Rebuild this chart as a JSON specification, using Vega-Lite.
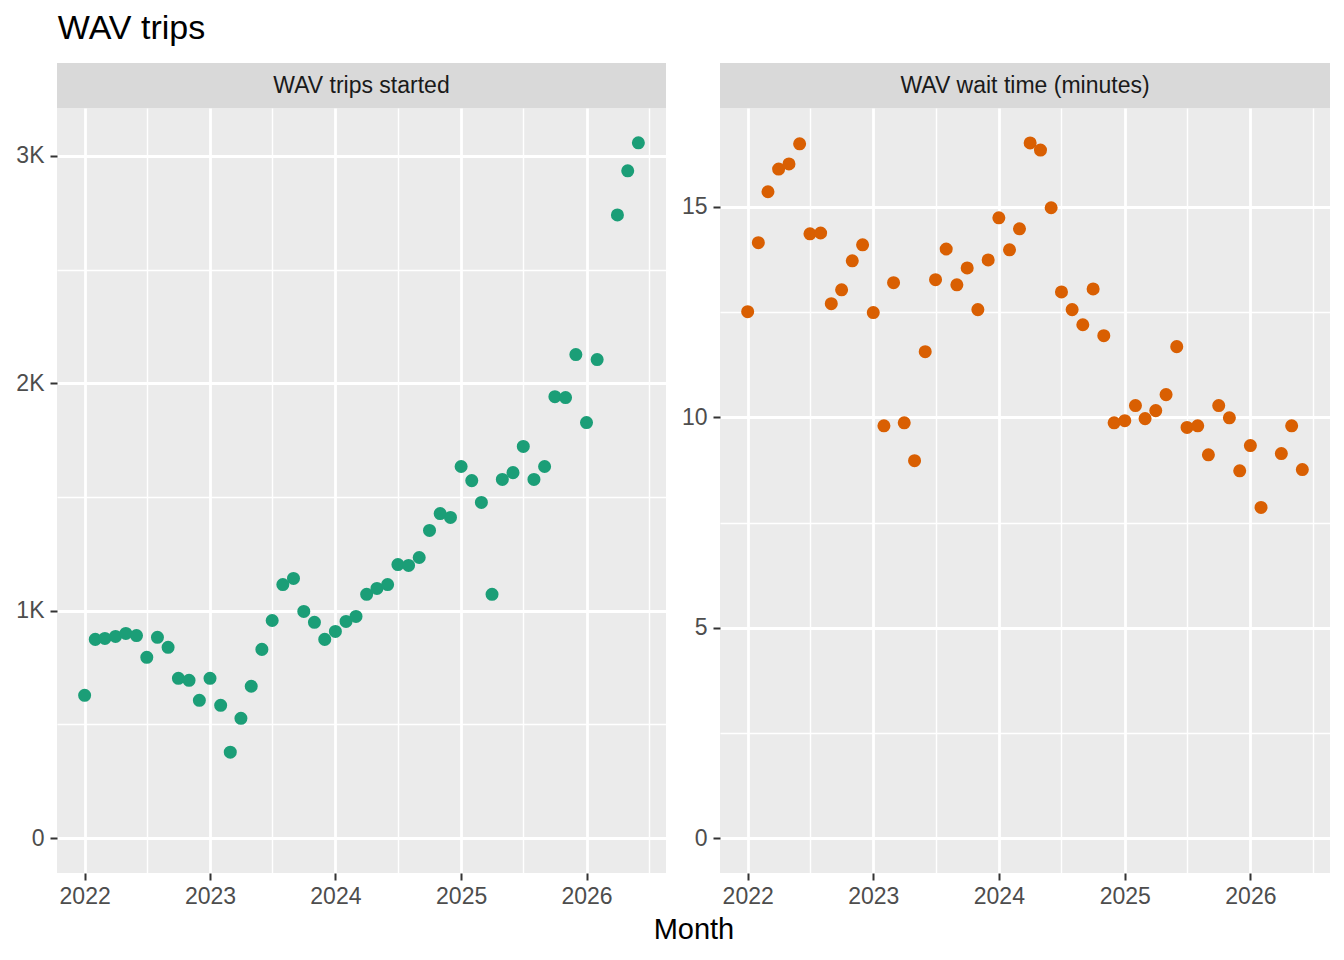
{
  "$schema": "https://vega.github.io/schema/vega-lite/v6.json",
  "padding": {"left": 15, "top": 12, "right": 12, "bottom": 0},
  "background": "white",
  "title": {"text": "WAV trips", "anchor": "start", "dx": 42, "fontSize": 34, "font": "Liberation Sans", "fontWeight": "normal", "color": "black", "offset": 17},
  "datasets": {
    "trips": [
      {"month": "2022-01-01", "value": 628}, {"month": "2022-02-01", "value": 874}, {"month": "2022-03-01", "value": 878},
      {"month": "2022-04-01", "value": 887}, {"month": "2022-05-01", "value": 900}, {"month": "2022-06-01", "value": 891},
      {"month": "2022-07-01", "value": 795}, {"month": "2022-08-01", "value": 883}, {"month": "2022-09-01", "value": 839},
      {"month": "2022-10-01", "value": 703}, {"month": "2022-11-01", "value": 694}, {"month": "2022-12-01", "value": 606},
      {"month": "2023-01-01", "value": 703}, {"month": "2023-02-01", "value": 584}, {"month": "2023-03-01", "value": 378},
      {"month": "2023-04-01", "value": 527}, {"month": "2023-05-01", "value": 668}, {"month": "2023-06-01", "value": 830},
      {"month": "2023-07-01", "value": 957}, {"month": "2023-08-01", "value": 1115}, {"month": "2023-09-01", "value": 1142},
      {"month": "2023-10-01", "value": 997}, {"month": "2023-11-01", "value": 949}, {"month": "2023-12-01", "value": 874},
      {"month": "2024-01-01", "value": 909}, {"month": "2024-02-01", "value": 953}, {"month": "2024-03-01", "value": 975},
      {"month": "2024-04-01", "value": 1072}, {"month": "2024-05-01", "value": 1098}, {"month": "2024-06-01", "value": 1115},
      {"month": "2024-07-01", "value": 1203}, {"month": "2024-08-01", "value": 1199}, {"month": "2024-09-01", "value": 1234},
      {"month": "2024-10-01", "value": 1353}, {"month": "2024-11-01", "value": 1427}, {"month": "2024-12-01", "value": 1410},
      {"month": "2025-01-01", "value": 1634}, {"month": "2025-02-01", "value": 1572}, {"month": "2025-03-01", "value": 1476},
      {"month": "2025-04-01", "value": 1072}, {"month": "2025-05-01", "value": 1577}, {"month": "2025-06-01", "value": 1607},
      {"month": "2025-07-01", "value": 1722}, {"month": "2025-08-01", "value": 1577}, {"month": "2025-09-01", "value": 1634},
      {"month": "2025-10-01", "value": 1941}, {"month": "2025-11-01", "value": 1937}, {"month": "2025-12-01", "value": 2126},
      {"month": "2026-01-01", "value": 1827}, {"month": "2026-02-01", "value": 2104},
      {"month": "2026-04-01", "value": 2740}, {"month": "2026-05-01", "value": 2934}, {"month": "2026-06-01", "value": 3057}
    ],
    "wait": [
      {"month": "2022-01-01", "value": 12.51}, {"month": "2022-02-01", "value": 14.15}, {"month": "2022-03-01", "value": 15.36},
      {"month": "2022-04-01", "value": 15.9}, {"month": "2022-05-01", "value": 16.02}, {"month": "2022-06-01", "value": 16.5},
      {"month": "2022-07-01", "value": 14.36}, {"month": "2022-08-01", "value": 14.38}, {"month": "2022-09-01", "value": 12.7},
      {"month": "2022-10-01", "value": 13.03}, {"month": "2022-11-01", "value": 13.72}, {"month": "2022-12-01", "value": 14.1},
      {"month": "2023-01-01", "value": 12.49}, {"month": "2023-02-01", "value": 9.8}, {"month": "2023-03-01", "value": 13.2},
      {"month": "2023-04-01", "value": 9.87}, {"month": "2023-05-01", "value": 8.97}, {"month": "2023-06-01", "value": 11.56},
      {"month": "2023-07-01", "value": 13.27}, {"month": "2023-08-01", "value": 14.0}, {"month": "2023-09-01", "value": 13.15},
      {"month": "2023-10-01", "value": 13.55}, {"month": "2023-11-01", "value": 12.56}, {"month": "2023-12-01", "value": 13.74},
      {"month": "2024-01-01", "value": 14.74}, {"month": "2024-02-01", "value": 13.98}, {"month": "2024-03-01", "value": 14.48},
      {"month": "2024-04-01", "value": 16.52}, {"month": "2024-05-01", "value": 16.35}, {"month": "2024-06-01", "value": 14.98},
      {"month": "2024-07-01", "value": 12.98}, {"month": "2024-08-01", "value": 12.56}, {"month": "2024-09-01", "value": 12.2},
      {"month": "2024-10-01", "value": 13.05}, {"month": "2024-11-01", "value": 11.94}, {"month": "2024-12-01", "value": 9.87},
      {"month": "2025-01-01", "value": 9.92}, {"month": "2025-02-01", "value": 10.28}, {"month": "2025-03-01", "value": 9.97},
      {"month": "2025-04-01", "value": 10.16}, {"month": "2025-05-01", "value": 10.54}, {"month": "2025-06-01", "value": 11.68},
      {"month": "2025-07-01", "value": 9.76}, {"month": "2025-08-01", "value": 9.8}, {"month": "2025-09-01", "value": 9.11},
      {"month": "2025-10-01", "value": 10.28}, {"month": "2025-11-01", "value": 9.99}, {"month": "2025-12-01", "value": 8.73},
      {"month": "2026-01-01", "value": 9.33}, {"month": "2026-02-01", "value": 7.86},
      {"month": "2026-04-01", "value": 9.14}, {"month": "2026-05-01", "value": 9.8}, {"month": "2026-06-01", "value": 8.76}
    ]
  },
  "vconcat": [
    {
      "title": {"text": "Month", "orient": "bottom", "anchor": "middle", "dx": 21, "fontSize": 29, "font": "Liberation Sans", "fontWeight": "normal", "color": "black", "offset": 8},
      "spacing": 15,
      "hconcat": [
        {
          "bounds": "flush",
          "spacing": 0,
          "vconcat": [
            {
              "width": 609, "height": 45,
              "view": {"fill": "#d9d9d9", "stroke": null},
              "data": {"values": [{"label": "WAV trips started"}]},
              "mark": {"type": "text", "font": "Liberation Sans", "fontSize": 23, "color": "#1a1a1a"},
              "encoding": {"text": {"field": "label"}}
            },
            {
              "width": 609, "height": 765,
              "view": {"fill": "#ebebeb", "stroke": null},
              "data": {"name": "trips"},
              "mark": {"type": "circle", "size": 170, "opacity": 1, "color": "#1b9e77"},
              "encoding": {
                "x": {
                  "field": "month", "type": "temporal", "title": null,
                  "scale": {"type": "utc", "domain": [{"year": 2021, "month": 10, "date": 12, "hours": 14, "utc": true}, {"year": 2026, "month": 8, "date": 20, "hours": 10, "utc": true}]},
                  "axis": {
                    "values": [
                      {"year": 2022, "month": 1, "date": 1, "utc": true}, {"year": 2022, "month": 7, "date": 1, "utc": true},
                      {"year": 2023, "month": 1, "date": 1, "utc": true}, {"year": 2023, "month": 7, "date": 1, "utc": true},
                      {"year": 2024, "month": 1, "date": 1, "utc": true}, {"year": 2024, "month": 7, "date": 1, "utc": true},
                      {"year": 2025, "month": 1, "date": 1, "utc": true}, {"year": 2025, "month": 7, "date": 1, "utc": true},
                      {"year": 2026, "month": 1, "date": 1, "utc": true}, {"year": 2026, "month": 7, "date": 1, "utc": true}
                    ],
                    "format": "%Y",
                    "labelExpr": "utcmonth(datum.value) == 0 ? datum.label : ''",
                    "gridWidth": {"condition": {"test": "utcmonth(datum.value) == 0", "value": 2.8}, "value": 1.4},
                    "tickOpacity": {"condition": {"test": "utcmonth(datum.value) == 0", "value": 1}, "value": 0}
                  }
                },
                "y": {
                  "field": "value", "type": "quantitative", "title": null,
                  "scale": {"domain": [-153, 3210], "nice": false, "zero": false},
                  "axis": {
                    "values": [0, 500, 1000, 1500, 2000, 2500, 3000],
                    "labelExpr": "datum.value == 0 ? '0' : (datum.value % 1000 == 0 ? (datum.value / 1000) + 'K' : '')",
                    "gridWidth": {"condition": {"test": "datum.value % 1000 == 0", "value": 2.8}, "value": 1.4},
                    "tickOpacity": {"condition": {"test": "datum.value % 1000 == 0", "value": 1}, "value": 0}
                  }
                }
              }
            }
          ]
        },
        {
          "bounds": "flush",
          "spacing": 0,
          "vconcat": [
            {
              "width": 610, "height": 45,
              "view": {"fill": "#d9d9d9", "stroke": null},
              "data": {"values": [{"label": "WAV wait time (minutes)"}]},
              "mark": {"type": "text", "font": "Liberation Sans", "fontSize": 23, "color": "#1a1a1a"},
              "encoding": {"text": {"field": "label"}}
            },
            {
              "width": 610, "height": 765,
              "view": {"fill": "#ebebeb", "stroke": null},
              "data": {"name": "wait"},
              "mark": {"type": "circle", "size": 170, "opacity": 1, "color": "#d95f02"},
              "encoding": {
                "x": {
                  "field": "month", "type": "temporal", "title": null,
                  "scale": {"type": "utc", "domain": [{"year": 2021, "month": 10, "date": 12, "hours": 14, "utc": true}, {"year": 2026, "month": 8, "date": 20, "hours": 10, "utc": true}]},
                  "axis": {
                    "values": [
                      {"year": 2022, "month": 1, "date": 1, "utc": true}, {"year": 2022, "month": 7, "date": 1, "utc": true},
                      {"year": 2023, "month": 1, "date": 1, "utc": true}, {"year": 2023, "month": 7, "date": 1, "utc": true},
                      {"year": 2024, "month": 1, "date": 1, "utc": true}, {"year": 2024, "month": 7, "date": 1, "utc": true},
                      {"year": 2025, "month": 1, "date": 1, "utc": true}, {"year": 2025, "month": 7, "date": 1, "utc": true},
                      {"year": 2026, "month": 1, "date": 1, "utc": true}, {"year": 2026, "month": 7, "date": 1, "utc": true}
                    ],
                    "format": "%Y",
                    "labelExpr": "utcmonth(datum.value) == 0 ? datum.label : ''",
                    "gridWidth": {"condition": {"test": "utcmonth(datum.value) == 0", "value": 2.8}, "value": 1.4},
                    "tickOpacity": {"condition": {"test": "utcmonth(datum.value) == 0", "value": 1}, "value": 0}
                  }
                },
                "y": {
                  "field": "value", "type": "quantitative", "title": null,
                  "scale": {"domain": [-0.826, 17.35], "nice": false, "zero": false},
                  "axis": {
                    "values": [0, 2.5, 5, 7.5, 10, 12.5, 15],
                    "labelExpr": "datum.value % 5 == 0 ? datum.label : ''",
                    "gridWidth": {"condition": {"test": "datum.value % 5 == 0", "value": 2.8}, "value": 1.4},
                    "tickOpacity": {"condition": {"test": "datum.value % 5 == 0", "value": 1}, "value": 0}
                  }
                }
              }
            }
          ]
        }
      ]
    }
  ],
  "config": {
    "font": "Liberation Sans",
    "view": {"stroke": null},
    "axis": {
      "labelFont": "Liberation Sans", "labelFontSize": 23, "labelColor": "#4d4d4d",
      "tickColor": "#333333", "tickWidth": 2, "tickSize": 7,
      "domain": false, "gridColor": "white", "gridOpacity": 1, "labelPadding": 3
    },
    "axisX": {"labelPadding": 5},
    "axisY": {"labelPadding": 6}
  }
}
